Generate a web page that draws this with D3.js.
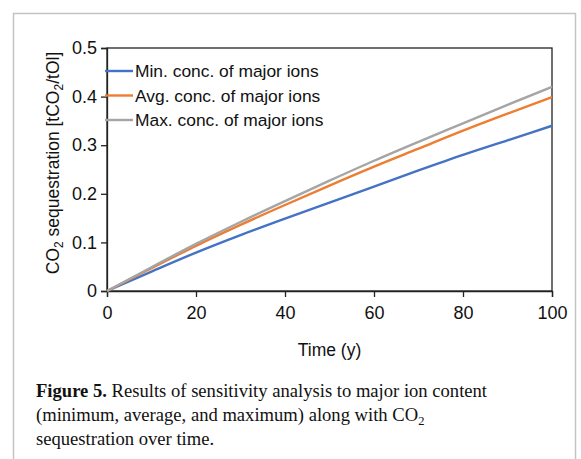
<!DOCTYPE html>
<html>
<head>
<meta charset="utf-8">
<script src="https://cdn.jsdelivr.net/npm/d3@7"></script>
<style>
  body { margin: 0; background: #fff; }
  svg { display: block; }
  .tick text { font-family: "Liberation Sans", Arial, sans-serif; font-size: 18px; fill: #111; }
</style>
</head>
<body>
<svg id="chart"></svg>
<script>
// data
const years = [0, 10, 20, 30, 40, 50, 60, 70, 80, 90, 100];
const minIons = [0, 0.040, 0.079, 0.115, 0.149, 0.182, 0.215, 0.248, 0.280, 0.310, 0.340];
const avgIons = [0, 0.047, 0.093, 0.136, 0.177, 0.217, 0.256, 0.293, 0.330, 0.365, 0.399];
const maxIons = [0, 0.049, 0.097, 0.142, 0.185, 0.227, 0.268, 0.307, 0.345, 0.383, 0.420];
const seriesNames = ["Min. conc. of major ions", "Avg. conc. of major ions", "Max. conc. of major ions"];
const xTicks = [0, 20, 40, 60, 80, 100];
const yTicks = [0, 0.1, 0.2, 0.3, 0.4, 0.5];

const width = 581, height = 459;
const colors = ["#4472c4", "#ed7d31", "#a5a5a5"];
const series = [minIons, avgIons, maxIons];

const svg = d3.select("#chart").attr("width", width).attr("height", height);

// outer figure frame (open at the bottom)
svg.append("path")
  .attr("d", "M13.5," + height + "V13.5H575.5V" + height)
  .attr("fill", "none")
  .attr("stroke", "#c4c4c4")
  .attr("stroke-width", 1.5);

let pLeft = 107, pRight = 552, pTop = 48, pBottom = 291;

let x = d3.scaleLinear().domain([0, 100]).range([pLeft, pRight]);
let y = d3.scaleLinear().domain([0, 0.5]).range([pBottom, pTop]);

// plot box
svg.append("rect")
  .attr("x", pLeft).attr("y", pTop)
  .attr("width", pRight - pLeft).attr("height", pBottom - pTop)
  .attr("fill", "none").attr("stroke", "#222").attr("stroke-width", 1.3);

let xAxis = d3.axisBottom(x).tickValues(xTicks).tickSize(6).tickPadding(9).tickFormat(d3.format("d"));
let yAxis = d3.axisLeft(y).tickValues(yTicks).tickSize(6).tickPadding(4).tickFormat(d => d === 0 ? "0" : d3.format(".1f")(d));

svg.append("g")
  .attr("transform", "translate(0," + pBottom + ")")
  .call(xAxis)
  .call(g => g.select(".domain").attr("stroke", "#222").attr("stroke-width", 1.3))
  .call(g => g.selectAll(".tick line").attr("stroke", "#222").attr("stroke-width", 1.3));

svg.append("g")
  .attr("transform", "translate(" + pLeft + ",0)")
  .call(yAxis)
  .call(g => g.select(".domain").attr("stroke", "#222").attr("stroke-width", 1.3))
  .call(g => g.selectAll(".tick line").attr("stroke", "#222").attr("stroke-width", 1.3));

// lines
let line = d3.line()
  .x((d, i) => x(years[i]))
  .y(d => y(d))
  .curve(d3.curveMonotoneX);

series.forEach((s, i) => {
  svg.append("path")
    .datum(s)
    .attr("d", line)
    .attr("fill", "none")
    .attr("stroke", colors[i])
    .attr("stroke-width", 2.4);
});

// legend
let legend = svg.append("g").attr("transform", "translate(105,71)");
seriesNames.forEach((name, i) => {
  let row = legend.append("g").attr("transform", "translate(0," + i * 24.5 + ")");
  row.append("line")
    .attr("x1", 0).attr("x2", 28)
    .attr("stroke", colors[i]).attr("stroke-width", 2.4);
  row.append("text")
    .attr("x", 30).attr("dy", "0.35em")
    .attr("font-family", "Liberation Sans, Arial, sans-serif")
    .attr("font-size", 17.4)
    .attr("fill", "#111")
    .text(name);
});

// axis titles
svg.append("text")
  .attr("x", (pLeft + pRight) / 2).attr("y", 356)
  .attr("text-anchor", "middle")
  .attr("font-family", "Liberation Sans, Arial, sans-serif")
  .attr("font-size", 17.5).attr("fill", "#111")
  .text("Time (y)");

let yTitle = svg.append("text")
  .attr("transform", "translate(59,163) rotate(-90)")
  .attr("text-anchor", "middle")
  .attr("font-family", "Liberation Sans, Arial, sans-serif")
  .attr("font-size", 17.5).attr("fill", "#111");
yTitle.append("tspan").text("CO");
yTitle.append("tspan").attr("font-size", 12).attr("dy", 4).text("2");
yTitle.append("tspan").attr("dy", -4).text(" sequestration [tCO");
yTitle.append("tspan").attr("font-size", 12).attr("dy", 4).text("2");
yTitle.append("tspan").attr("dy", -4).text("/tOl]");

// caption
let cap = svg.append("g")
  .attr("font-family", "Liberation Serif, DejaVu Serif, serif")
  .attr("font-size", 18.6).attr("fill", "#111");
let l1 = cap.append("text").attr("x", 36).attr("y", 397);
l1.append("tspan").attr("font-weight", "bold").text("Figure 5.");
l1.append("tspan").text(" Results of sensitivity analysis to major ion content");
let l2 = cap.append("text").attr("x", 36).attr("y", 421);
l2.append("tspan").text("(minimum, average, and maximum) along with CO");
l2.append("tspan").attr("font-size", 12.5).attr("dy", 4).text("2");
cap.append("text").attr("x", 36).attr("y", 445).text("sequestration over time.");
</script>
</body>
</html>
